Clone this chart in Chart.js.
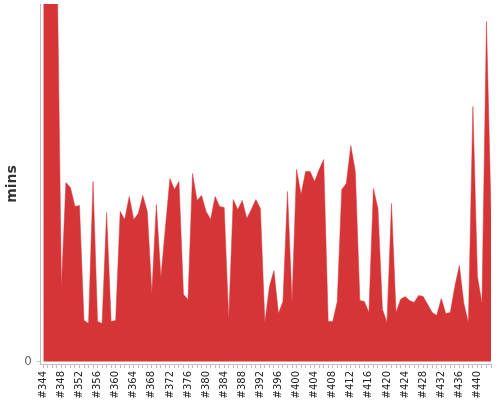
<!DOCTYPE html>
<html>
<head>
<meta charset="utf-8">
<script src="https://cdn.jsdelivr.net/npm/chart.js@4/dist/chart.umd.min.js"></script>
<style>
html,body{margin:0;padding:0;background:#fff;}
#wrap{width:500px;height:400px;}
</style>
</head>
<body>
<div id="wrap"><canvas id="c" width="500" height="400"></canvas></div>
<script>
const buildLabels = [
 '#344','#345','#346','#347','#348','#349','#350','#351','#352','#353',
 '#354','#355','#356','#357','#358','#359','#360','#361','#362','#363',
 '#364','#365','#366','#367','#368','#369','#370','#371','#372','#373',
 '#374','#375','#376','#377','#378','#379','#380','#381','#382','#383',
 '#384','#385','#386','#387','#388','#389','#390','#391','#392','#393',
 '#394','#395','#396','#397','#398','#399','#400','#401','#402','#403',
 '#404','#405','#406','#407','#408','#409','#410','#411','#412','#413',
 '#414','#415','#416','#417','#418','#419','#420','#421','#422','#423',
 '#424','#425','#426','#427','#428','#429','#430','#431','#432','#433',
 '#434','#435','#436','#437','#438','#439','#440','#441','#442','#443'
];
const durationMins = [
 60, 55, 50, 42, 7.5, 17.9, 17.4, 15.5, 15.6, 4.1,
 3.8, 18.0, 4.0, 3.8, 14.9, 4.0, 4.1, 15.0, 14.2, 16.5,
 14.2, 14.8, 16.6, 15.0, 6.8, 15.7, 8.4, 13.4, 18.3, 17.2,
 18.0, 6.7, 6.2, 18.8, 16.1, 16.6, 15.0, 14.2, 16.5, 15.5,
 15.4, 4.2, 16.2, 15.2, 16.1, 14.3, 15.2, 16.2, 15.3, 3.9,
 7.5, 9.1, 4.8, 6.0, 17.0, 6.0, 19.2, 16.7, 19.0, 19.0,
 18.0, 19.2, 20.2, 4.0, 4.0, 6.0, 17.2, 17.8, 21.6, 19.0,
 6.1, 6.0, 4.9, 17.3, 15.3, 5.2, 3.9, 15.8, 4.9, 6.2,
 6.5, 6.1, 5.9, 6.6, 6.5, 5.7, 4.9, 4.6, 6.3, 4.8,
 4.9, 7.5, 9.6, 5.8, 3.9, 25.5, 8.5, 5.8, 34.0, 15.0
];
const yTickValues = [0];
const labelEvery = 4;

const points = durationMins.map((v, i) => ({ x: i, y: v }));
const RED = '#d63538';
const AXIS = '#bdbdbd';

new Chart(document.getElementById('c'), {
  type: 'line',
  data: {
    datasets: [{
      data: points,
      fill: 'origin',
      backgroundColor: RED,
      borderColor: RED,
      borderWidth: 0.5,
      pointRadius: 0,
      tension: 0
    }]
  },
  options: {
    responsive: false,
    animation: false,
    layout: { padding: { top: 4, right: 9, left: 0, bottom: 0 } },
    plugins: { legend: { display: false }, tooltip: { enabled: false } },
    scales: {
      x: {
        type: 'linear',
        min: -0.73,
        max: buildLabels.length - 1,
        afterBuildTicks: s => { s.ticks = buildLabels.map((_, i) => ({ value: i })); },
        afterFit: s => { s.height = 36; s.paddingLeft = 0; s.paddingRight = 0; },
        ticks: {
          autoSkip: false,
          minRotation: 90,
          maxRotation: 90,
          padding: 3,
          color: '#222',
          font: { family: 'DejaVu Sans', size: 10 },
          callback: v => (v % labelEvery === 0 ? buildLabels[v] : '')
        },
        grid: { display: true, drawOnChartArea: false, drawTicks: true, tickLength: 4, color: AXIS },
        border: { display: true, color: AXIS, width: 1 }
      },
      y: {
        min: -0.25,
        max: 35.75,
        afterBuildTicks: s => { s.ticks = yTickValues.map(v => ({ value: v })); },
        afterFit: s => { s.width = 40; s.paddingTop = 0; s.paddingBottom = 0; },
        ticks: {
          padding: 5,
          color: '#666',
          font: { family: 'DejaVu Sans', size: 12 }
        },
        grid: { display: true, drawOnChartArea: false, drawTicks: true, tickLength: 3, color: AXIS },
        border: { display: true, color: AXIS, width: 1 },
        title: {
          display: true,
          text: 'mins',
          color: '#333',
          font: { family: 'DejaVu Sans', size: 14, weight: 'bold' },
          padding: { top: 4, bottom: 0 }
        }
      }
    }
  }
});
</script>
</body>
</html>
